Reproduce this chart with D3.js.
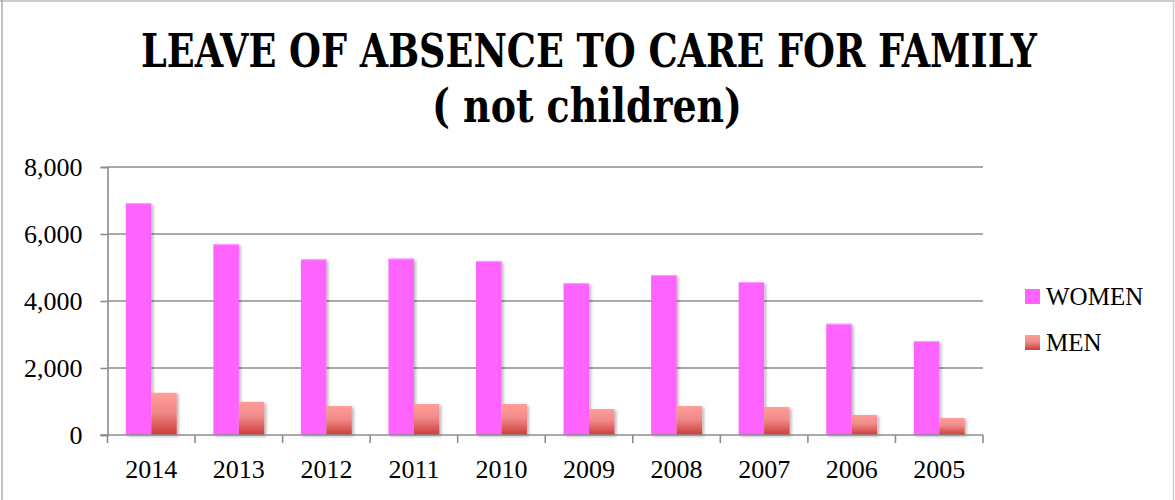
<!DOCTYPE html>
<html>
<head>
<meta charset="utf-8">
<script src="https://cdn.jsdelivr.net/npm/d3@7/dist/d3.min.js"></script>
<style>
  html, body { margin: 0; padding: 0; background: #fff; }
  svg { display: block; }
</style>
</head>
<body>
<svg id="chart" width="1175" height="500"></svg>
<script>
// Leave of absence to care for family (not children), by year and sex
const years = ["2014", "2013", "2012", "2011", "2010", "2009", "2008", "2007", "2006", "2005"];
const women = [6920, 5700, 5245, 5265, 5195, 4530, 4775, 4565, 3320, 2805];
const men   = [1260, 990, 865, 925, 925, 775, 865, 835, 600, 510];
const seriesNames = ["WOMEN", "MEN"];
const yTicks = [0, 2000, 4000, 6000, 8000];
const titleLines = ["LEAVE OF ABSENCE TO CARE FOR FAMILY", "( not children)"];

const svg = d3.select("#chart");
const W = 1175, H = 500;
const plot = { left: 107.5, right: 983, top: 167, bottom: 435 };
const serif = "'Liberation Serif', 'Times New Roman', serif";
const titleFont = "'DejaVu Serif Condensed', 'DejaVu Serif', serif";
const gridColor = "#8c8c8c";

const defs = svg.append("defs");
const grad = defs.append("linearGradient")
  .attr("id", "menFill").attr("x1", 0).attr("y1", 0).attr("x2", 0).attr("y2", 1);
grad.append("stop").attr("offset", "0%").attr("stop-color", "#ff9d9b");
grad.append("stop").attr("offset", "45%").attr("stop-color", "#f08a88");
grad.append("stop").attr("offset", "100%").attr("stop-color", "#cc3c3a");

const shadow = defs.append("filter").attr("id", "barShadow")
  .attr("x", "-30%").attr("y", "-10%").attr("width", "160%").attr("height", "130%");
shadow.append("feDropShadow").attr("dx", 2).attr("dy", 1.5)
  .attr("stdDeviation", 1.8).attr("flood-color", "#000").attr("flood-opacity", 0.28);

// outer frame
svg.append("line").attr("x1", 0).attr("x2", W).attr("y1", 1).attr("y2", 1)
  .attr("stroke", "#9a9a9a").attr("stroke-width", 1.2);
svg.append("line").attr("x1", 2).attr("x2", 2).attr("y1", 0).attr("y2", H)
  .attr("stroke", "#9a9a9a").attr("stroke-width", 1.2);
svg.append("line").attr("x1", 1173.5).attr("x2", 1173.5).attr("y1", 0).attr("y2", H)
  .attr("stroke", "#cfcfcf").attr("stroke-width", 1.5);

// title
const title = svg.append("g")
  .attr("font-family", titleFont).attr("font-weight", "bold").attr("fill", "#000")
  .attr("text-anchor", "middle");
title.append("text").attr("x", 589).attr("y", 67).attr("font-size", 46)
  .attr("textLength", 896).attr("lengthAdjust", "spacingAndGlyphs").text(titleLines[0]);
title.append("text").attr("x", 587).attr("y", 122).attr("font-size", 46)
  .attr("textLength", 310).attr("lengthAdjust", "spacingAndGlyphs").text(titleLines[1]);

// scales
const x0 = d3.scaleBand().domain(years).range([plot.left, plot.right]).padding(0);
const x1 = d3.scaleBand().domain(seriesNames).range([0, x0.bandwidth()])
  .paddingInner(0).paddingOuter(0.72);
const y = d3.scaleLinear().domain([0, 8000]).range([plot.bottom, plot.top]);

// horizontal gridlines
svg.append("g").selectAll("line").data(yTicks.filter(d => d > 0)).join("line")
  .attr("x1", plot.left).attr("x2", plot.right)
  .attr("y1", d => y(d)).attr("y2", d => y(d))
  .attr("stroke", gridColor).attr("stroke-width", 1.6);

// y axis
const yAxis = svg.append("g").attr("transform", `translate(${plot.left},0)`)
  .call(d3.axisLeft(y).tickValues(yTicks).tickSize(7).tickPadding(18)
    .tickFormat(d3.format(",")));
yAxis.select(".domain").attr("stroke", gridColor).attr("stroke-width", 1.6);
yAxis.selectAll(".tick line").attr("stroke", gridColor).attr("stroke-width", 1.6);
yAxis.selectAll(".tick text").attr("font-family", serif).attr("font-size", 26)
  .attr("fill", "#000").attr("dy", "0.34em");

// bars
const groups = svg.append("g").selectAll("g").data(years).join("g")
  .attr("transform", d => `translate(${x0(d)},0)`);
const rows = years.map((yr, i) => [
  { key: "WOMEN", value: women[i] },
  { key: "MEN", value: men[i] }
]);
groups.each(function(d, i) {
  d3.select(this).selectAll("rect").data(rows[i]).join("rect")
    .attr("x", r => x1(r.key))
    .attr("width", x1.bandwidth())
    .attr("y", r => y(r.value))
    .attr("height", r => y(0) - y(r.value))
    .attr("fill", r => r.key === "WOMEN" ? "#ff63ff" : "url(#menFill)")
    .attr("filter", "url(#barShadow)");
  // lighter top edge on the women bar
  d3.select(this).append("line")
    .attr("x1", x1("WOMEN")).attr("x2", x1("WOMEN") + x1.bandwidth())
    .attr("y1", y(women[i]) + 0.5).attr("y2", y(women[i]) + 0.5)
    .attr("stroke", "#ff9cff").attr("stroke-width", 1);
});

// x axis
const xAxis = svg.append("g").attr("transform", `translate(0,${plot.bottom})`)
  .call(d3.axisBottom(x0).tickSize(0).tickPadding(0));
xAxis.select(".domain").remove();
xAxis.append("line").attr("x1", plot.left - 7).attr("x2", plot.right)
  .attr("stroke", gridColor).attr("stroke-width", 1.6);
xAxis.selectAll(".tick text").attr("font-family", serif).attr("font-size", 26)
  .attr("fill", "#000").attr("y", 43).attr("dy", 0);
// category boundary ticks
const bounds = years.map(d => x0(d)).concat([plot.right]);
xAxis.append("g").selectAll("line").data(bounds).join("line")
  .attr("x1", d => d).attr("x2", d => d).attr("y1", 0).attr("y2", 8)
  .attr("stroke", gridColor).attr("stroke-width", 1.6);

// legend
const legend = svg.append("g").attr("font-family", serif).attr("font-size", 25);
const legendRows = [
  { key: "WOMEN", fill: "#ff63ff", y: 289 },
  { key: "MEN", fill: "url(#menFill)", y: 335 }
];
legend.selectAll("rect").data(legendRows).join("rect")
  .attr("x", 1025).attr("y", d => d.y).attr("width", 15).attr("height", 15)
  .attr("fill", d => d.fill);
legend.selectAll("text").data(legendRows).join("text")
  .attr("x", 1046).attr("y", d => d.y + 16).attr("fill", "#000")
  .text(d => d.key);
</script>
</body>
</html>
